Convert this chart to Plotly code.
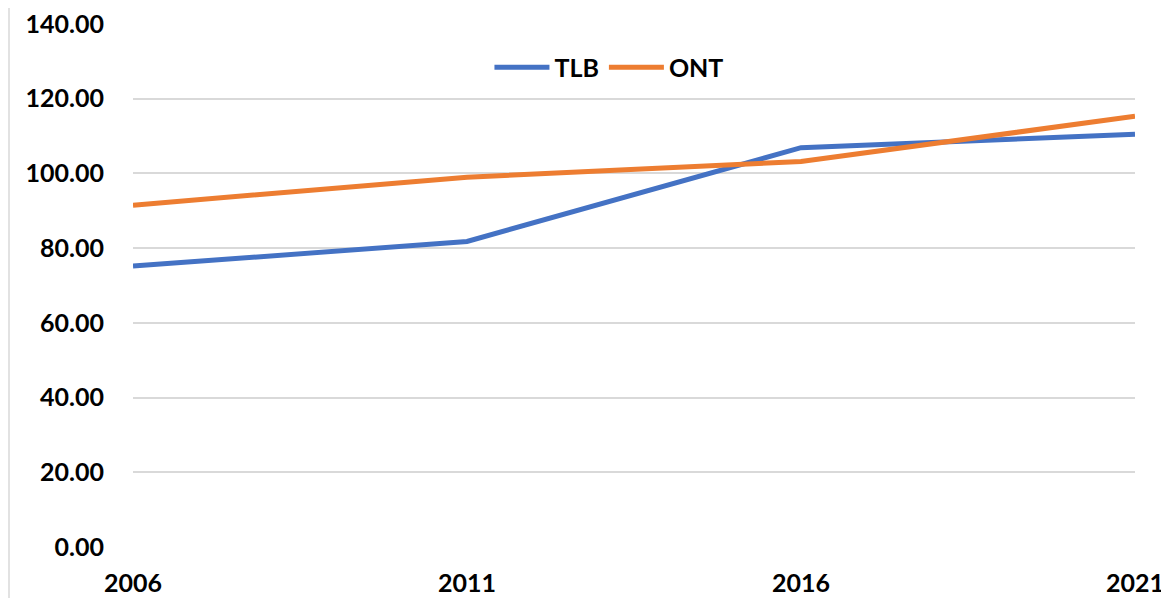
import plotly.graph_objects as go

years = [2006, 2011, 2016, 2021]
tlb = [75.2, 81.8, 106.9, 110.5]
ont = [91.5, 99.0, 103.2, 115.3]
y_ticks = [0, 20, 40, 60, 80, 100, 120, 140]

FONT = "Lato"

fig = go.Figure()
fig.add_trace(go.Scatter(x=years, y=tlb, mode="lines", name="TLB",
                         line=dict(color="#4472C4", width=5)))
fig.add_trace(go.Scatter(x=years, y=ont, mode="lines", name="ONT",
                         line=dict(color="#ED7D31", width=5)))

# page body has an 8px margin, so the figure is sized/placed to compensate
fig.update_layout(
    width=1161, height=590,
    margin=dict(l=125, r=34, t=16, b=51, autoexpand=False),
    paper_bgcolor="white", plot_bgcolor="white",
    font=dict(family=FONT, size=25, color="#000000"),
    showlegend=True,
    legend=dict(orientation="h", x=0.475, y=0.917, xanchor="center", yanchor="middle",
                font=dict(family=FONT, size=25, color="#000000", weight="bold"),
                bgcolor="rgba(0,0,0,0)", itemwidth=55),
    xaxis=dict(range=[2006, 2021], tickvals=years, ticktext=[str(y) for y in years],
               showgrid=False, zeroline=False, showline=False, automargin=False,
               ticks="outside", ticklen=0, ticklabelstandoff=14,
               ticklabeloverflow="allow",
               tickfont=dict(family=FONT, size=25, weight="bold")),
    yaxis=dict(range=[0, 140], tickvals=y_ticks, tickformat=".2f",
               showgrid=True, gridcolor="#D9D9D9", gridwidth=1.5,
               zeroline=False, showline=False, automargin=False,
               ticks="outside", ticklen=0, ticklabelstandoff=23,
               ticklabeloverflow="allow",
               tickfont=dict(family=FONT, size=25, weight="bold")),
    shapes=[dict(type="line", xref="paper", yref="paper",
                 x0=-124/1002, x1=-124/1002, y0=-0.2, y1=1.1,
                 line=dict(color="#D9D9D9", width=1.5))],
)

fig.write_html("out.html")
